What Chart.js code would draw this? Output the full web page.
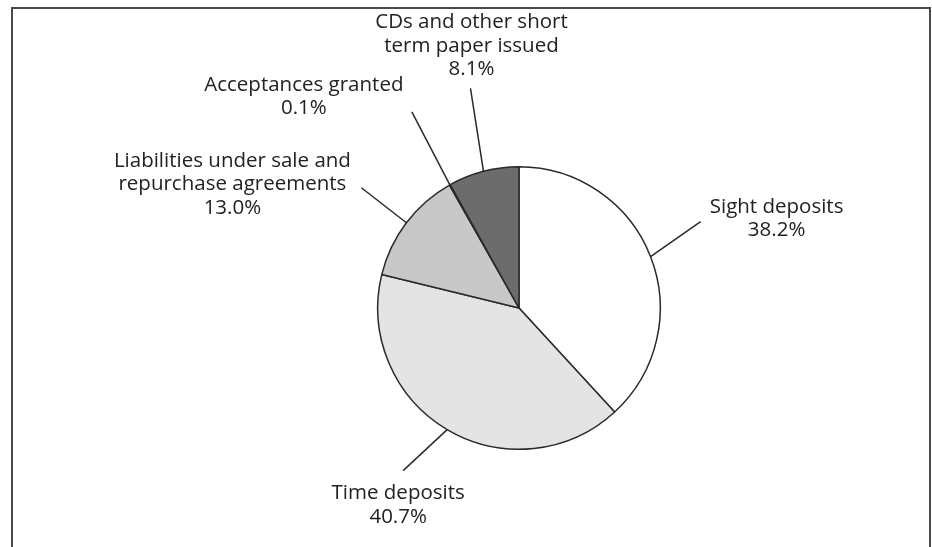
<!DOCTYPE html>
<html>
<head>
<meta charset="utf-8">
<script src="https://cdn.jsdelivr.net/npm/chart.js@4.4.1/dist/chart.umd.min.js"></script>
<style>
    html, body { margin: 0; padding: 0; background: #fff; overflow: hidden; }
    #wrap { position: relative; width: 932px; height: 547px; }
    #frame { position: absolute; left: 11px; top: 7px; width: 920px; height: 600px; border: 2px solid #4a4a4a; box-sizing: border-box; }
    #chart { position: absolute; left: 0; top: 0; }
</style>
</head>
<body>
<div id="wrap">
    <div id="frame"></div>
    <canvas id="chart" width="932" height="547"></canvas>
</div>
<script>
// slices, clockwise from 12 o'clock
var categories = ["Sight deposits", "Time deposits", "Liabilities under sale and repurchase agreements", "Acceptances granted", "CDs and other short term paper issued"];
var labelLines = [["Sight deposits"], ["Time deposits"], ["Liabilities under sale and", "repurchase agreements"], ["Acceptances granted"], ["CDs and other short", "term paper issued"]];
var shares = [38.2, 40.7, 13.0, 0.1, 8.1];

var sliceColors = ['#ffffff', '#e4e4e4', '#c8c8c8', '#9a9a9a', '#6c6c6c'];

// leader: offset of line end from the slice edge; text: offset of the first line's centre from that end
var labelLayout = [
    { leader: [50, -35], text: [76, -15] },
    { leader: [-44, 41], text: [-5, 23] },
    { leader: [-45, -35], text: [-129, -27] },
    { leader: [-38, -73], text: [-108, -27] },
    { leader: [-13, -83], text: [1, -66] }
];

var pieLabels = {
    id: 'pieLabels',
    afterDatasetsDraw: function (chart) {
        var ctx = chart.ctx;
        var arcs = chart.getDatasetMeta(0).data;
        ctx.save();
        ctx.font = '20.5px "Open Sans", sans-serif';
        ctx.fillStyle = '#222';
        ctx.strokeStyle = '#2a2a2a';
        ctx.lineWidth = 1.5;
        ctx.textAlign = 'center';
        ctx.textBaseline = 'middle';
        arcs.forEach(function (arc, i) {
            var p = arc.getProps(['x', 'y', 'startAngle', 'endAngle', 'outerRadius'], true);
            var mid = (p.startAngle + p.endAngle) / 2;
            var ex = p.x + Math.cos(mid) * p.outerRadius;
            var ey = p.y + Math.sin(mid) * p.outerRadius;
            var lay = labelLayout[i];
            var lx = ex + lay.leader[0];
            var ly = ey + lay.leader[1];
            ctx.beginPath();
            ctx.moveTo(ex, ey);
            ctx.lineTo(lx, ly);
            ctx.stroke();
            var lines = labelLines[i].concat([shares[i].toFixed(1) + '%']);
            var tx = lx + lay.text[0];
            var ty = ly + lay.text[1];
            lines.forEach(function (t, k) {
                ctx.fillText(t, tx, ty + k * 23.5);
            });
        });
        ctx.restore();
    }
};

new Chart(document.getElementById('chart'), {
    type: 'pie',
    data: {
        labels: categories,
        datasets: [{
            data: shares,
            backgroundColor: sliceColors,
            borderColor: '#2a2a2a',
            borderWidth: 1.5
        }]
    },
    options: {
        responsive: false,
        animation: false,
        layout: {
            padding: { top: 166, bottom: 97, left: 300, right: 194 }
        },
        plugins: {
            legend: { display: false },
            tooltip: { enabled: false }
        }
    },
    plugins: [pieLabels]
});
</script>
</body>
</html>
